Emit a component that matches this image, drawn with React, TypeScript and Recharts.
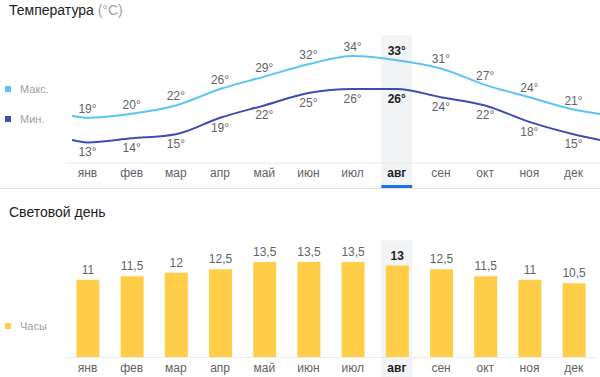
import { LineChart, Line, BarChart, Bar, XAxis, YAxis, ReferenceArea, LabelList } from 'recharts';

const months = ['янв', 'фев', 'мар', 'апр', 'май', 'июн', 'июл', 'авг', 'сен', 'окт', 'ноя', 'дек'];
const maxTemp = [19, 20, 22, 26, 29, 32, 34, 33, 31, 27, 24, 21];
const minTemp = [13, 14, 15, 19, 22, 25, 26, 26, 24, 22, 18, 15];
// the lines run on a little past the first and last month
const edgePos = [-0.35, 11.6];
const edgeMax = [19.5, 19.9];
const edgeMin = [13.6, 13.6];
const daylight = [11, 11.5, 12, 12.5, 13.5, 13.5, 13.5, 13, 12.5, 11.5, 11, 10.5];
const current = 7;

const FONT = "Arial, 'Liberation Sans', sans-serif";
const MAX_COLOR = '#5bc4f5';
const MIN_COLOR = '#3c4fb0';
const BAR_COLOR = '#ffcd47';
const HILITE = '#f1f3f4';

const tempData = [
  { x: edgePos[0], max: edgeMax[0], min: edgeMin[0] },
  ...months.map((m, i) => ({ x: i, max: maxTemp[i], min: minTemp[i] })),
  { x: edgePos[1], max: edgeMax[1], min: edgeMin[1] },
];

const dayData = months.map((m, i) => ({ month: m, hours: daylight[i] }));

function tempLabel(below: boolean) {
  return (props: any) => {
    const { x, y, index, value } = props;
    if (index === 0 || index === tempData.length - 1) return null;
    const hot = index - 1 === current;
    return (
      <text
        x={x}
        y={below ? y + 14 : y - 5}
        textAnchor="middle"
        fontSize={12}
        fontFamily={FONT}
        fontWeight={hot ? 'bold' : 'normal'}
        fill={hot ? '#202124' : '#5f6368'}
      >
        {value}°
      </text>
    );
  };
}

function BarLabel(props: any) {
  const { x, y, width, index, value } = props;
  const hot = index === current;
  return (
    <text
      x={x + width / 2}
      y={y - 6}
      textAnchor="middle"
      fontSize={12}
      fontFamily={FONT}
      fontWeight={hot ? 'bold' : 'normal'}
      fill={hot ? '#202124' : '#5f6368'}
    >
      {String(value).replace('.', ',')}
    </text>
  );
}

function monthTick(getName: (v: any) => string) {
  return (props: any) => {
    const { x, y, payload } = props;
    const name = getName(payload.value);
    const hot = name === months[current];
    return (
      <text
        x={x}
        y={y + 14}
        textAnchor="middle"
        fontSize={12}
        fontFamily={FONT}
        fontWeight={hot ? 'bold' : 'normal'}
        fill={hot ? '#202124' : '#5f6368'}
      >
        {name}
      </text>
    );
  };
}

function LegendItem({ top, color, label }: { top: number; color: string; label: string }) {
  return (
    <div style={{ position: 'absolute', left: 5, top, display: 'flex', alignItems: 'center', height: 12 }}>
      <span style={{ width: 6, height: 6, background: color, display: 'inline-block' }} />
      <span style={{ marginLeft: 9, fontSize: 11, color: '#9aa0a6', fontFamily: FONT }}>{label}</span>
    </div>
  );
}

export default function App() {
  return (
    <div style={{ position: 'absolute', left: 0, top: 0, width: 600, height: 377, background: '#fff', fontFamily: FONT, overflow: 'hidden' }}>
      <div style={{ position: 'absolute', left: 9, top: 2, fontSize: 14, color: '#202124', zIndex: 2 }}>
        Температура <span style={{ color: '#9aa0a6' }}>(°C)</span>
      </div>
      <LegendItem top={83} color={MAX_COLOR} label="Макс." />
      <LegendItem top={113} color={MIN_COLOR} label="Мин." />

      <div style={{ position: 'absolute', left: 0, top: 0 }}>
        <LineChart width={600} height={190} data={tempData} margin={{ top: 31.4, right: 0, bottom: 0, left: 65.4 }}>
          <XAxis
            type="number"
            dataKey="x"
            domain={[-0.5, 11.6]}
            ticks={months.map((m, i) => i)}
            interval={0}
            height={27}
            tickLine={false}
            tickSize={0}
            tickMargin={0}
            axisLine={{ stroke: '#e8eaed' }}
            tick={monthTick((v) => months[v])}
          />
          <YAxis hide domain={[8, 40]} />
          <ReferenceArea
            x1={current - 0.35}
            x2={current + 0.35}
            fill={HILITE}
            fillOpacity={1}
            shape={(p: any) => (
              <g>
                <rect x={p.x} y={p.y + 4} width={p.width} height={185 - p.y - 4} fill={HILITE} />
                <rect x={p.x} y={185} width={p.width} height={3} fill="#1a73e8" />
              </g>
            )}
          />
          <Line type="monotone" dataKey="max" stroke={MAX_COLOR} strokeWidth={2} dot={false} isAnimationActive={false}>
            <LabelList dataKey="max" content={tempLabel(false)} />
          </Line>
          <Line type="monotone" dataKey="min" stroke={MIN_COLOR} strokeWidth={2} dot={false} isAnimationActive={false}>
            <LabelList dataKey="min" content={tempLabel(true)} />
          </Line>
        </LineChart>
      </div>

      <div style={{ position: 'absolute', left: 0, top: 188, width: 600, height: 1, background: '#e0e0e0' }} />

      <div style={{ position: 'absolute', left: 9, top: 204, fontSize: 14, color: '#202124', zIndex: 2 }}>
        Световой день
      </div>
      <LegendItem top={320} color={BAR_COLOR} label="Часы" />

      <div style={{ position: 'absolute', left: 0, top: 190 }}>
        <BarChart width={600} height={187} data={dayData} margin={{ top: 54.4, right: 4.2, bottom: 0, left: 65.4 }} barSize={23}>
          <XAxis
            dataKey="month"
            interval={0}
            height={19.5}
            tickLine={false}
            tickSize={0}
            tickMargin={0}
            axisLine={{ stroke: '#e8eaed' }}
            tick={monthTick((v) => v)}
          />
          <YAxis hide domain={[0, 16]} />
          <ReferenceArea
            x1={months[current]}
            x2={months[current]}
            fill={HILITE}
            fillOpacity={1}
            shape={(p: any) => (
              <rect x={p.x + (p.width - 31) / 2} y={p.y - 4} width={31} height={187 - p.y + 4} fill={HILITE} />
            )}
          />
          <Bar dataKey="hours" fill={BAR_COLOR} isAnimationActive={false}>
            <LabelList dataKey="hours" content={BarLabel} />
          </Bar>
        </BarChart>
      </div>
    </div>
  );
}
